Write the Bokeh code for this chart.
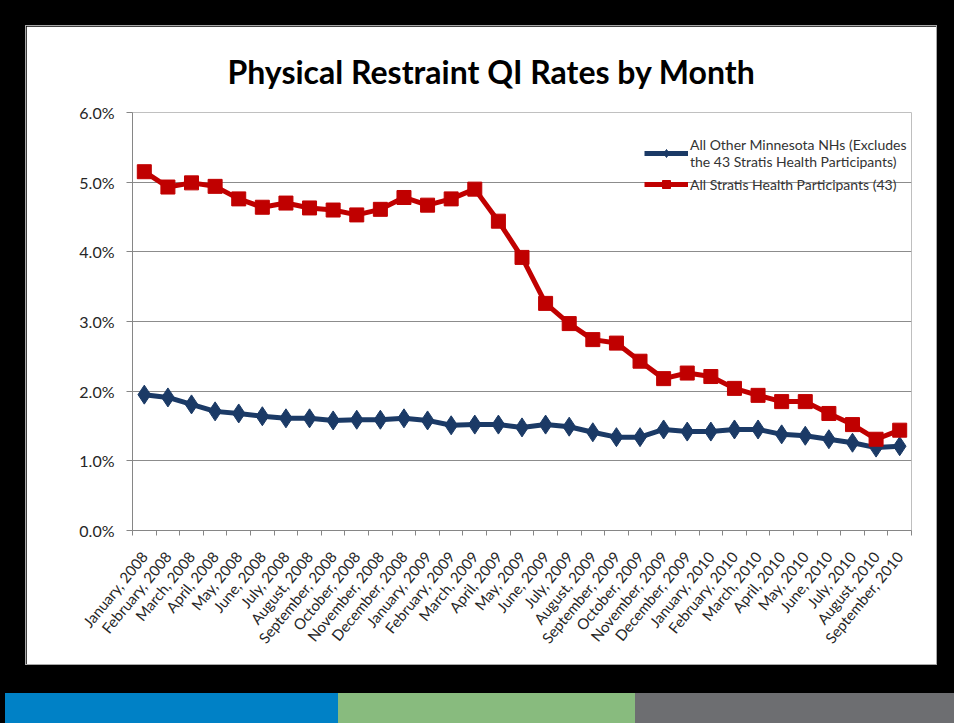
from bokeh.plotting import figure
from bokeh.models import Range1d, FixedTicker, PrintfTickFormatter, Legend, LegendItem, Div
from bokeh.layouts import column, row
from bokeh.embed import file_html
from bokeh.resources import INLINE
import math

months = ["January, 2008", "February, 2008", "March, 2008", "April, 2008", "May, 2008", "June, 2008",
          "July, 2008", "August, 2008", "September, 2008", "October, 2008", "November, 2008", "December, 2008",
          "January, 2009", "February, 2009", "March, 2009", "April, 2009", "May, 2009", "June, 2009",
          "July, 2009", "August, 2009", "September, 2009", "October, 2009", "November, 2009", "December, 2009",
          "January, 2010", "February, 2010", "March, 2010", "April, 2010", "May, 2010", "June, 2010",
          "July, 2010", "August, 2010", "September, 2010"]

other_mn = [1.95, 1.91, 1.81, 1.71, 1.68, 1.64, 1.61, 1.61, 1.58, 1.59, 1.59, 1.61,
            1.58, 1.51, 1.52, 1.52, 1.48, 1.52, 1.49, 1.41, 1.34, 1.34, 1.45, 1.42,
            1.42, 1.45, 1.45, 1.38, 1.36, 1.31, 1.26, 1.19, 1.21]

stratis = [5.15, 4.93, 4.99, 4.94, 4.76, 4.64, 4.70, 4.63, 4.60, 4.53, 4.61, 4.78,
           4.67, 4.76, 4.90, 4.44, 3.92, 3.26, 2.97, 2.74, 2.69, 2.43, 2.18, 2.26,
           2.21, 2.04, 1.94, 1.85, 1.85, 1.68, 1.52, 1.31, 1.44]

y_ticks = [0, 1, 2, 3, 4, 5, 6]

FONT = "Lato"
n = len(months)
xs = [i + 0.5 for i in range(n)]

p = figure(width=912, height=640, output_backend="svg", toolbar_location=None,
           x_range=Range1d(0, n), y_range=Range1d(0, 6),
           min_border_left=106, min_border_right=27, min_border_top=86, min_border_bottom=136,
           background_fill_color="white", border_fill_color="white",
           title="Physical Restraint QI Rates by Month")
p.margin = (25, 17, 28, 25)
p.styles = {"border": "1px solid #a8a8a8", "box-sizing": "border-box"}
p.outline_line_color = None

p.title.text_font = FONT
p.title.text_font_style = "bold"
p.title.text_font_size = "32px"
p.title.text_color = "black"
p.title.align = "left"
p.title.offset = 95
p.title.standoff = 43

# axes
p.xaxis.ticker = FixedTicker(ticks=xs, minor_ticks=list(range(n + 1)))
p.xaxis.major_label_overrides = {x: m for x, m in zip(xs, months)}
p.xaxis.major_label_orientation = math.atan2(88, 72)
p.xaxis.major_tick_line_color = None
p.xaxis.minor_tick_line_color = "#868686"
p.xaxis.minor_tick_out = 5
p.xaxis.minor_tick_in = 0
p.xaxis.axis_line_color = "#868686"
p.xaxis.major_label_text_font = FONT
p.xaxis.major_label_text_font_size = "15px"
p.xaxis.major_label_text_color = "#262626"
p.xaxis.major_label_standoff = 17

p.yaxis.ticker = FixedTicker(ticks=y_ticks, minor_ticks=[])
p.yaxis.formatter = PrintfTickFormatter(format="%.1f%%")
p.yaxis.axis_line_color = "#868686"
p.yaxis.major_tick_line_color = "#868686"
p.yaxis.major_tick_out = 6
p.yaxis.major_tick_in = 0
p.yaxis.major_label_text_font = FONT
p.yaxis.major_label_text_font_size = "16px"
p.yaxis.major_label_text_color = "#262626"
p.yaxis.major_label_standoff = 12

p.xgrid.grid_line_color = None
p.ygrid.grid_line_color = "#8c8c8c"
p.ygrid.ticker = FixedTicker(ticks=y_ticks)

BLUE = "#1b3a66"
RED = "#c00000"

bl = p.line(xs, other_mn, line_color=BLUE, line_width=5)
bm = p.scatter(xs, other_mn, marker="diamond", size=19, fill_color=BLUE, line_color=BLUE)
rl = p.line(xs, stratis, line_color=RED, line_width=5)
rm = p.scatter(xs, stratis, marker="square", size=14, fill_color=RED, line_color=RED)

legend = Legend(items=[
    LegendItem(label="All Other Minnesota NHs (Excludes\nthe 43 Stratis Health Participants)", renderers=[bl, bm]),
    LegendItem(label="All Stratis Health Participants (43)", renderers=[rl, rm]),
], location=(512, 336))
legend.background_fill_alpha = 0
legend.border_line_color = None
legend.label_text_font = FONT
legend.label_text_font_size = "14px"
legend.label_text_color = "#333333"
legend.glyph_width = 44
legend.label_standoff = 2
legend.padding = 0
legend.margin = 0
legend.spacing = 4
p.add_layout(legend, "center")

d1 = Div(width=333, height=30, margin=(0, 0, 0, 5), styles={"background-color": "#0081c6"})
d2 = Div(width=297, height=30, margin=0, styles={"background-color": "#88bb7e"})
d3 = Div(width=319, height=30, margin=0, styles={"background-color": "#6d6e71"})
bars = row(d1, d2, d3, spacing=0, margin=0)

page = column(p, bars, spacing=0, margin=0, styles={"background-color": "black"})

open("out.html", "w").write(file_html(page, INLINE))
